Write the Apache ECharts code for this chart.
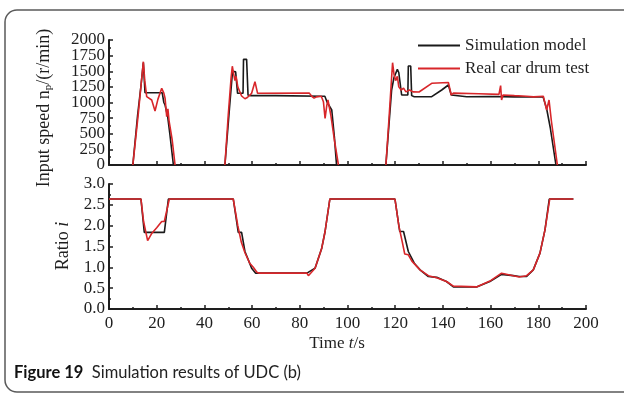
<!DOCTYPE html>
<html>
<head>
<meta charset="utf-8">
<script src="https://cdn.jsdelivr.net/npm/echarts@6/dist/echarts.min.js"></script>
<style>
html,body{margin:0;padding:0;background:#fff;}
#chart{width:624px;height:394px;}
</style>
</head>
<body>
<div id="chart"></div>
<script>
// ---- data ----
var seriesNames = ['Simulation model', 'Real car drum test'];
var xTicks = [0, 20, 40, 60, 80, 100, 120, 140, 160, 180, 200];
var speedTicks = [0, 250, 500, 750, 1000, 1250, 1500, 1750, 2000];
var ratioTicks = [0.0, 0.5, 1.0, 1.5, 2.0, 2.5, 3.0];

// Input speed, simulation model (null = gap between driving segments)
var speedSimT = [10, 12, 13.5, 14.4, 15.1, 22.3, 23.0, 23.5, 24.6, 25.5, 27, 27.5,
  48.6, 50.5, 51.8, 52.3, 53.1, 53.9, 56.2, 56.4, 57.7, 58.3, 59.5, 70, 89.5, 90.5, 91.5, 93.4, 94.5, 95.4, 96,
  116.1, 117.5, 118.5, 119.5, 120.9, 121.5, 122.7, 125.3, 125.5, 126.5, 126.9, 128, 135.3, 139.5, 142.3, 143.5, 150, 160, 170, 182, 183.5, 185, 187.4];
var speedSimV = [0, 800, 1300, 1640, 1157, 1157, 1000, 960, 773, 500, 0, null,
  0, 900, 1500, 1520, 1490, 1147, 1147, 1690, 1690, 1115, 1110, 1110, 1100, 1100, 1000, 880, 450, 0, null,
  0, 700, 1200, 1400, 1530, 1480, 1120, 1120, 1584, 1584, 1110, 1093, 1093, 1200, 1280, 1120, 1093, 1095, 1090, 1090, 900, 600, 0];

// Input speed, real car drum test
var speedRealT = [10, 12.3, 13.5, 14.4, 15.0, 15.8, 17.9, 19.3, 20.5, 22.1, 23.0, 23.5, 24.2, 24.7, 25.2, 26.5, 27.7, 28,
  48.6, 50, 51.2, 51.7, 52.3, 52.8, 53.3, 54, 55.6, 57, 58, 59.8, 61.2, 62.3, 63, 84, 85, 86, 87, 89, 89.9, 90.6, 91.3, 91.8, 93, 94.5, 96.2, 96.5,
  116.1, 117.5, 118.5, 118.9, 119.5, 120.2, 120.9, 121.5, 122.5, 123.5, 124.5, 126, 127.5, 130, 135.3, 142.3, 143.5, 144.4, 155, 163.5, 164.2, 164.6, 165.2, 170, 175, 178, 182.1, 183.5, 184.5, 185.5, 188];
var speedRealV = [0, 827, 1300, 1653, 1350, 1093, 1040, 864, 1050, 1227, 1150, 1070, 773, 900, 700, 400, 0, null,
  0, 800, 1400, 1580, 1450, 1350, 1420, 1250, 1104, 1060, 1080, 1147, 1333, 1147, 1150, 1150, 1100, 1070, 1090, 1100, 1013, 747, 950, 1040, 800, 400, 0, null,
  0, 800, 1400, 1637, 1450, 1350, 1420, 1250, 1200, 1230, 1170, 1200, 1170, 1168, 1307, 1320, 1120, 1150, 1140, 1130, 1270, 1040, 1120, 1110, 1100, 1090, 1100, 880, 1040, 700, 0];

// Ratio, simulation model
var ratioSimT = [0, 13.4, 14.8, 23.2, 24.9, 52.1, 54.2, 55.6, 57, 59.8, 61.5, 83, 83.6, 86.4, 89.2, 90.6, 92.6, 119.9, 121.9, 123.5, 125.5, 128, 130.4, 133.9, 137.4, 141.5, 144.4, 154.1, 159.7, 164.6, 169.5, 172, 175.1, 177.9, 180.7, 182.8, 184.6, 194.7];
var ratioSimV = [2.64, 2.64, 1.84, 1.84, 2.64, 2.64, 1.84, 1.84, 1.38, 0.98, 0.86, 0.86, 0.82, 0.98, 1.46, 1.86, 2.64, 2.64, 1.86, 1.86, 1.38, 1.10, 0.94, 0.78, 0.76, 0.66, 0.53, 0.53, 0.66, 0.83, 0.80, 0.78, 0.78, 0.94, 1.34, 1.90, 2.64, 2.64];

// Ratio, real car drum test
var ratioRealT = [0, 13.4, 14.5, 16.2, 18, 20, 22.1, 23.2, 25.3, 52.1, 54, 55.5, 57, 59, 60.5, 62, 63, 83, 83.6, 86.4, 89.2, 90.6, 92.6, 119.9, 121.5, 123, 124, 125.5, 127, 130.4, 133.9, 137.4, 141.5, 144.4, 154.1, 159.7, 164.6, 169.5, 172, 175.1, 177.9, 180.7, 182.8, 184.8, 194.7];
var ratioRealV = [2.64, 2.64, 2.10, 1.64, 1.82, 1.95, 2.10, 2.10, 2.64, 2.64, 2.00, 1.60, 1.35, 1.10, 1.00, 0.88, 0.86, 0.86, 0.80, 0.98, 1.46, 1.86, 2.64, 2.64, 2.00, 1.60, 1.32, 1.30, 1.15, 0.94, 0.80, 0.75, 0.66, 0.55, 0.53, 0.67, 0.86, 0.80, 0.77, 0.80, 0.94, 1.34, 1.90, 2.64, 2.64];

function zip(t, v) {
  var out = [];
  for (var i = 0; i < t.length; i++) out.push([t[i], v[i] === null ? '-' : v[i]]);
  return out;
}

var serif = 'Liberation Serif';
var ink = '#1e1e1e';
var blackC = '#1a1a1a';
var redC = '#d8262a';

function xAxisCfg(gridIndex, showLabels) {
  return {
    type: 'value', gridIndex: gridIndex, min: xTicks[0], max: xTicks[xTicks.length - 1], interval: xTicks[1] - xTicks[0],
    axisLine: { show: true, onZero: false, lineStyle: { color: ink, width: 2 } },
    axisTick: { show: true, inside: true, length: 4, lineStyle: { color: ink, width: 1.5 } },
    minorTick: { show: true, splitNumber: 2, length: 2, lineStyle: { color: ink, width: 1.5 } },
    axisLabel: { show: showLabels, color: ink, fontFamily: serif, fontSize: 17, margin: 6, hideOverlap: false, showMinLabel: true, showMaxLabel: true,
      formatter: function (v) { return String(v); } },
    splitLine: { show: false }
  };
}

function yAxisCfg(gridIndex, ticks, showLabels, fmt) {
  return {
    type: 'value', gridIndex: gridIndex, position: 'left', min: ticks[0], max: ticks[ticks.length - 1], interval: ticks[1] - ticks[0],
    axisLine: { show: true, lineStyle: { color: ink, width: 2 } },
    axisTick: { show: true, inside: true, length: 4, lineStyle: { color: ink, width: 1.5 } },
    minorTick: { show: true, splitNumber: 2, length: 2, lineStyle: { color: ink, width: 1.5 } },
    axisLabel: { show: showLabels, color: ink, fontFamily: serif, fontSize: 17, margin: 4, hideOverlap: false, showMinLabel: true, showMaxLabel: true, formatter: fmt },
    splitLine: { show: false }
  };
}

var option = {
  animation: false,
  backgroundColor: '#fff',
  legend: {
    orient: 'vertical', left: 413, top: 32, itemGap: 6,
    itemWidth: 42, itemHeight: 2, icon: 'rect',
    data: seriesNames,
    textStyle: { fontFamily: serif, fontSize: 17, color: ink, lineHeight: 17 }
  },
  grid: [
    { left: 109, top: 40, width: 477, height: 125 },
    { left: 109, top: 184, width: 477, height: 125 }
  ],
  xAxis: [xAxisCfg(0, false), xAxisCfg(1, true)],
  yAxis: [
    yAxisCfg(0, speedTicks, false, null),
    yAxisCfg(1, ratioTicks, true, function (v) { return v.toFixed(1); }),
    // label-only companion axis so every speed tick label is kept (labels are tightly packed)
    {
      type: 'category', gridIndex: 0, position: 'left', offset: 0, boundaryGap: false, data: speedTicks.map(String),
      axisLine: { show: false }, axisTick: { show: false }, splitLine: { show: false },
      axisLabel: { interval: 0, color: ink, fontFamily: serif, fontSize: 17, margin: 4 }
    }
  ],
  series: [
    { name: seriesNames[0], type: 'line', xAxisIndex: 0, yAxisIndex: 0, data: zip(speedSimT, speedSimV), showSymbol: false, symbol: 'none', lineStyle: { color: blackC, width: 1.6 }, itemStyle: { color: blackC } },
    { name: seriesNames[1], type: 'line', xAxisIndex: 0, yAxisIndex: 0, data: zip(speedRealT, speedRealV), showSymbol: false, symbol: 'none', lineStyle: { color: redC, width: 1.6 }, itemStyle: { color: redC } },
    { name: seriesNames[0], type: 'line', xAxisIndex: 1, yAxisIndex: 1, data: zip(ratioSimT, ratioSimV), showSymbol: false, symbol: 'none', lineStyle: { color: blackC, width: 1.6 }, itemStyle: { color: blackC } },
    { name: seriesNames[1], type: 'line', xAxisIndex: 1, yAxisIndex: 1, data: zip(ratioRealT, ratioRealV), showSymbol: false, symbol: 'none', lineStyle: { color: redC, width: 1.6 }, itemStyle: { color: redC } }
  ],
  graphic: [
    { type: 'rect', shape: { x: 5, y: 10, width: 640, height: 382, r: 12 }, style: { fill: 'none', stroke: '#5a5a5a', lineWidth: 1.5 }, z: 0 },
    { type: 'text', x: 44, y: 108, rotation: Math.PI / 2,
      style: { text: '{m|Input speed n}{s|p}{m|/(r/min)}',
        rich: {
          m: { fontFamily: serif, fontSize: 18, fill: ink, lineHeight: 24, verticalAlign: 'middle' },
          s: { fontFamily: serif, fontSize: 11, fill: ink, lineHeight: 24, verticalAlign: 'bottom', padding: [0, 0, 2, 0] }
        },
        align: 'center', verticalAlign: 'middle' } },
    { type: 'text', x: 63, y: 246, rotation: Math.PI / 2,
      style: { text: 'Ratio {i|i}', rich: { i: { fontFamily: serif, fontSize: 18, fontStyle: 'italic', fill: ink } },
        fontFamily: serif, fontSize: 18, fill: ink, align: 'center', verticalAlign: 'middle' } },
    { type: 'text', x: 337, y: 344,
      style: { text: 'Time {i|t}/s', rich: { i: { fontFamily: serif, fontSize: 17, fontStyle: 'italic', fill: ink } },
        fontFamily: serif, fontSize: 17, fill: ink, align: 'center', verticalAlign: 'middle' } },
    { type: 'text', x: 14, y: 373,
      style: { text: '{b|Figure 19}  Simulation results of UDC (b)', rich: { b: { fontFamily: 'Lato', fontSize: 16.5, fontWeight: 'bold', fill: '#111' } },
        fontFamily: 'Lato', fontSize: 16.5, fill: '#222', align: 'left', verticalAlign: 'middle' } }
  ]
};

var chart = echarts.init(document.getElementById('chart'), null, { renderer: 'canvas' });
chart.setOption(option);
</script>
</body>
</html>
